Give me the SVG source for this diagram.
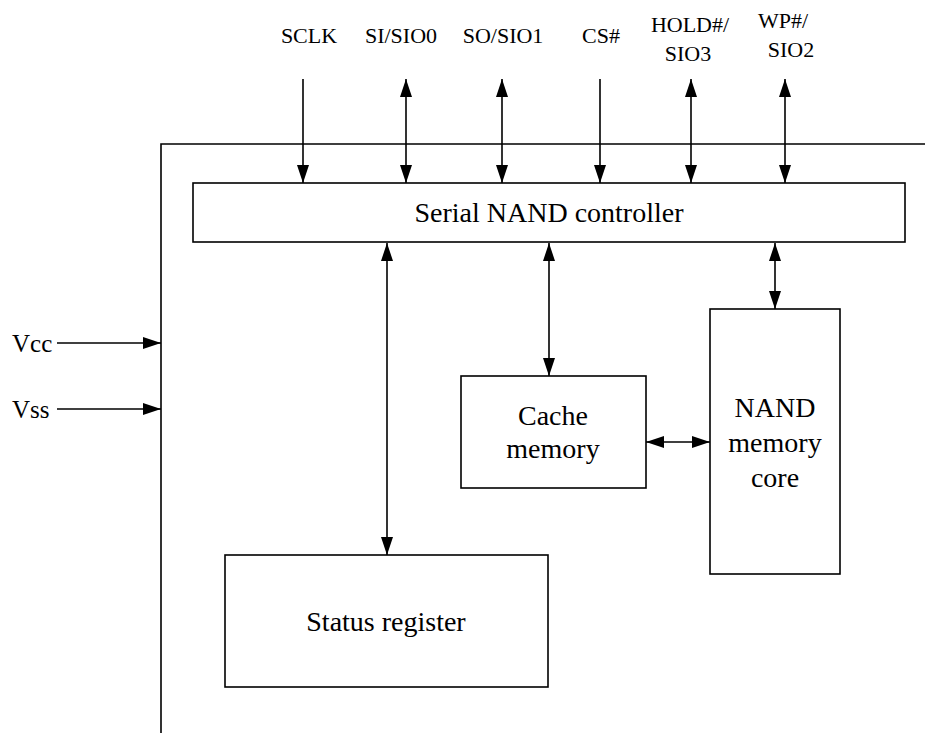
<svg xmlns="http://www.w3.org/2000/svg" width="925" height="733" viewBox="0 0 925 733">
<defs>
<marker id="ah" viewBox="0 0 18 12" refX="18" refY="6" markerWidth="18" markerHeight="12" markerUnits="userSpaceOnUse" orient="auto-start-reverse">
<path d="M0,0 L18,6 L0,12 z" fill="#000"/>
</marker>
<style>
.box{fill:#fff;stroke:#000;stroke-width:1.6}
.ln{stroke:#000;stroke-width:1.6;fill:none}
.one{marker-end:url(#ah)}
.two{marker-start:url(#ah);marker-end:url(#ah)}
.t{font-family:"Liberation Serif","Times New Roman",serif;fill:#000;text-anchor:middle}
.s{font-size:22px}
.b{font-size:28px}
</style>
</defs>
<rect width="925" height="733" fill="#fff"/>
<g id="chip">
<path class="ln" d="M161,733 L161,144 L925,144"/>
</g>
<g id="controller">
<rect class="box" x="193" y="183" width="712" height="59"/>
<text class="t b" x="549" y="222">Serial NAND controller</text>
</g>
<g id="cache">
<rect class="box" x="461" y="376" width="185" height="112"/>
<text class="t b" x="553" y="425">Cache</text>
<text class="t b" x="553" y="458">memory</text>
</g>
<g id="nand">
<rect class="box" x="710" y="309" width="130" height="265"/>
<text class="t b" x="775" y="417">NAND</text>
<text class="t b" x="775" y="452">memory</text>
<text class="t b" x="775" y="487">core</text>
</g>
<g id="status">
<rect class="box" x="225" y="555" width="323" height="132"/>
<text class="t b" x="386" y="631">Status register</text>
</g>
<g id="labels">
<text class="t s" x="309" y="43">SCLK</text>
<text class="t s" x="401" y="43">SI/SIO0</text>
<text class="t s" x="503" y="43">SO/SIO1</text>
<text class="t s" x="601" y="43">CS#</text>
<text class="t s" x="690" y="32">HOLD#/</text>
<text class="t s" x="688" y="61">SIO3</text>
<text class="t s" x="783" y="28">WP#/</text>
<text class="t s" x="791" y="57">SIO2</text>
<text class="t" style="font-size:25px;text-anchor:start" x="12" y="352">Vcc</text>
<text class="t" style="font-size:25px;text-anchor:start" x="12" y="418">Vss</text>
</g>
<g id="connectors">
<line class="ln one" x1="303" y1="79" x2="303" y2="183"/>
<line class="ln two" x1="406" y1="79" x2="406" y2="183"/>
<line class="ln two" x1="502" y1="79" x2="502" y2="183"/>
<line class="ln one" x1="600" y1="79" x2="600" y2="183"/>
<line class="ln two" x1="691" y1="79" x2="691" y2="183"/>
<line class="ln two" x1="785" y1="79" x2="785" y2="183"/>
<line class="ln one" x1="57" y1="343" x2="161" y2="343"/>
<line class="ln one" x1="57" y1="409" x2="161" y2="409"/>
<line class="ln two" x1="387" y1="243" x2="387" y2="555"/>
<line class="ln two" x1="549" y1="243" x2="549" y2="376"/>
<line class="ln two" x1="775" y1="243" x2="775" y2="309"/>
<line class="ln two" x1="646" y1="442" x2="710" y2="442"/>
</g>
</svg>
